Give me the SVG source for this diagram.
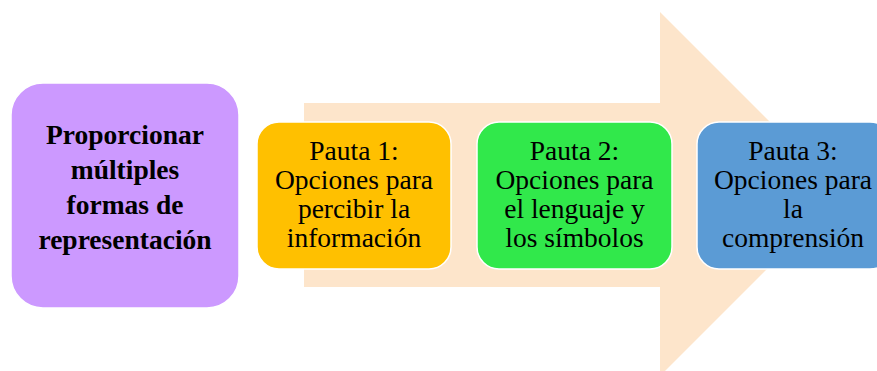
<svg xmlns="http://www.w3.org/2000/svg" width="877" height="371" viewBox="0 0 877 371">
<style>
.box{stroke:#ffffff;stroke-width:1.5}
.t{font-family:"Liberation Serif","Times New Roman",serif;font-size:27.5px;fill:#000;text-anchor:middle}
.b{font-weight:bold}
</style>
<rect width="877" height="371" fill="#ffffff"/>
<g id="connectors">
<path d="M304,103 H660 V12 L842,194 L660,376 V287 H304 Z" fill="#FDE5CB"/>
</g>
<g id="node-main">
<rect class="box" x="11" y="83" width="228" height="225" rx="32" fill="#CC99FF"/>
<text class="t b" x="125" y="144">Proporcionar</text>
<text class="t b" x="125" y="179">múltiples</text>
<text class="t b" x="125" y="214">formas de</text>
<text class="t b" x="125" y="249">representación</text>
</g>
<g id="node-pauta1">
<rect class="box" x="257" y="122" width="194" height="147" rx="22" fill="#FFC000"/>
<text class="t" x="354" y="160">Pauta 1:</text>
<text class="t" x="354" y="189">Opciones para</text>
<text class="t" x="354" y="218">percibir la</text>
<text class="t" x="354" y="247">información</text>
</g>
<g id="node-pauta2">
<rect class="box" x="477" y="122" width="195" height="147" rx="22" fill="#31E84B"/>
<text class="t" x="574.5" y="160">Pauta 2:</text>
<text class="t" x="574.5" y="189">Opciones para</text>
<text class="t" x="574.5" y="218">el lenguaje y</text>
<text class="t" x="574.5" y="247">los símbolos</text>
</g>
<g id="node-pauta3">
<rect class="box" x="697" y="122" width="195" height="147" rx="22" fill="#5B9BD5"/>
<text class="t" x="793" y="160">Pauta 3:</text>
<text class="t" x="793" y="189">Opciones para</text>
<text class="t" x="793" y="218">la</text>
<text class="t" x="793" y="247">comprensión</text>
</g>
</svg>
